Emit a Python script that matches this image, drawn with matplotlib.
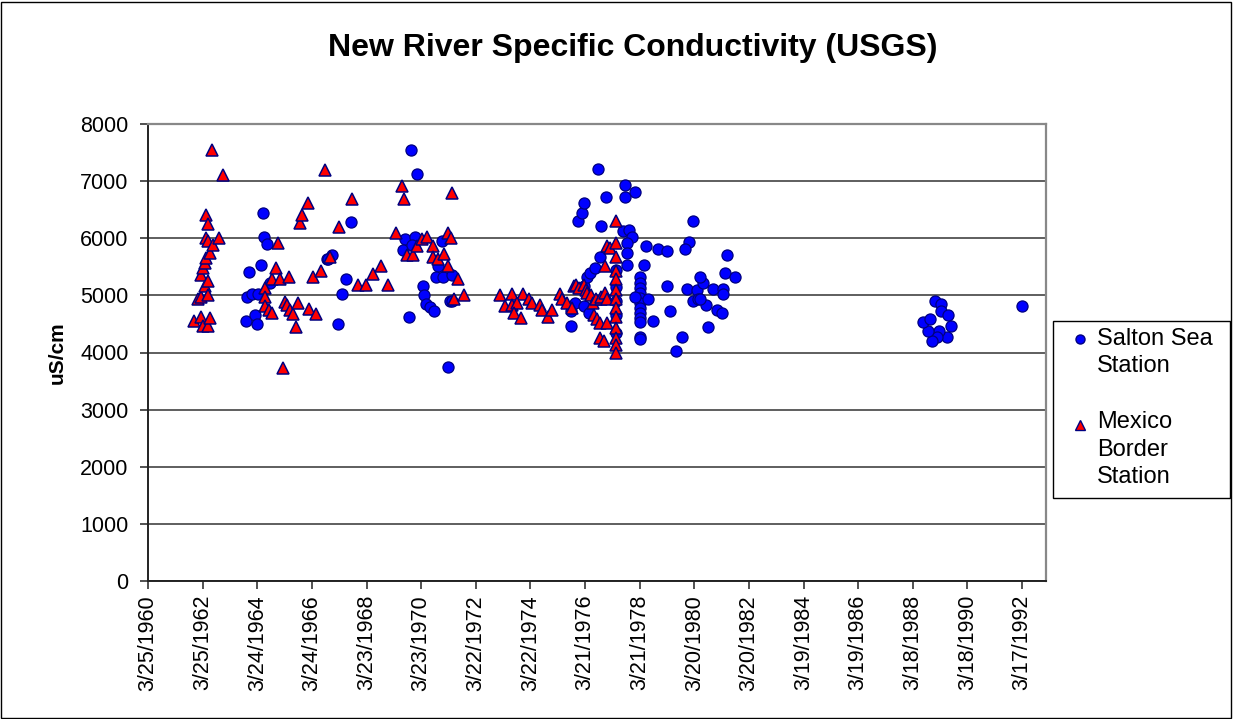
"""New River specific conductivity scatter (USGS), Excel-style chart."""
import datetime as dt

import matplotlib

matplotlib.use("Agg")
import matplotlib.dates as mdates  # noqa: E402
import matplotlib.pyplot as plt  # noqa: E402
from matplotlib.lines import Line2D  # noqa: E402
from matplotlib.patches import Rectangle  # noqa: E402

plt.rcParams["font.family"] = ["Liberation Sans", "DejaVu Sans"]

# decimal years / uS/cm
salton_yr = [
    1963.80, 1963.86, 1963.94, 1964.02, 1964.15, 1964.21, 1964.27, 1964.37,
    1964.43, 1964.49, 1964.58, 1964.69, 1966.77, 1966.95, 1966.83, 1967.17,
    1967.32, 1967.46, 1967.66, 1969.85, 1970.06, 1969.64, 1970.00, 1969.55,
    1969.88, 1970.97, 1970.85, 1970.76, 1971.01, 1971.37, 1970.29, 1970.34,
    1970.40, 1970.55, 1970.71, 1969.78, 1971.28, 1971.37, 1971.19,
    1975.71, 1975.71, 1975.86, 1976.17, 1976.35, 1976.17, 1976.29, 1976.41,
    1976.57, 1976.78, 1975.95, 1976.10, 1976.17, 1976.69, 1976.97, 1976.82,
    1977.68, 1978.05, 1977.68, 1977.62, 1977.84, 1977.93, 1977.77, 1977.77,
    1977.77, 1977.37, 1977.37, 1977.37, 1977.37, 1977.37,
    1978.23, 1978.23, 1978.23, 1978.23, 1978.23, 1978.23, 1978.23, 1978.23,
    1978.23, 1978.23, 1978.23, 1978.23, 1978.05,
    1978.45, 1978.88, 1979.21, 1978.38, 1978.54, 1978.72, 1979.21, 1979.33,
    1980.16, 1980.03, 1979.88, 1979.95, 1980.31, 1980.53, 1980.43, 1980.16,
    1980.37, 1980.65, 1979.75, 1979.53, 1980.71, 1981.43, 1981.35, 1981.71,
    1980.91, 1981.28, 1981.28, 1981.06, 1981.22, 1980.43,
    1989.03, 1989.23, 1989.23, 1989.51, 1989.60, 1989.45, 1989.18, 1989.09,
    1988.91, 1988.76, 1988.60, 1988.85, 1992.20,
]
salton_val = [
    4560, 4970, 5410, 5030, 4660, 4500, 5030, 5530,
    6440, 6030, 5900, 5220, 5630, 5710, 5640, 4500,
    5030, 5280, 6280, 7550, 7120, 5980, 6030, 5790,
    5890, 5950, 5510, 5320, 5320, 5360, 5160, 5000,
    4850, 4790, 4720, 4620, 4900, 4910, 3750,
    4720, 4470, 4870, 4810, 4690, 5160, 5330, 5390,
    5480, 5680, 6310, 6440, 6620, 7210, 6720, 6210,
    6940, 6810, 6720, 6120, 6140, 6020, 5910, 5740,
    5540, 5450, 5150, 4900, 4650, 4350,
    5330, 5220, 5130, 5040, 4960, 4870, 4780, 4690,
    4610, 4530, 4280, 4230, 4980,
    5870, 5810, 5780, 5530, 4940, 4550, 5160, 4720,
    6310, 5940, 5810, 5120, 5090, 5220, 5320, 4900,
    4930, 4840, 4280, 4030, 4440, 5710, 5400, 5320,
    5120, 5120, 5030, 4750, 4690, 4940,
    4900, 4850, 4720, 4660, 4470, 4280, 4370, 4280,
    4200, 4380, 4530, 4590, 4820,
]

mexico_yr = [
    1961.91, 1962.07, 1962.18, 1962.18, 1962.18, 1962.25, 1962.25, 1962.31,
    1962.31, 1962.35, 1962.35, 1962.35, 1962.41, 1962.41, 1962.43, 1962.43,
    1962.43, 1962.50, 1962.50, 1962.56, 1962.62, 1962.83, 1962.97,
    1964.50, 1964.50, 1964.52, 1964.67, 1964.78, 1964.78, 1964.91, 1965.00,
    1965.06, 1965.16, 1965.24, 1965.30, 1965.39, 1965.42, 1965.54, 1965.65,
    1965.73, 1965.79, 1965.85, 1966.07, 1966.13, 1966.28, 1966.36, 1966.56,
    1966.71, 1966.89, 1967.22, 1967.70, 1967.92, 1968.20, 1968.47, 1968.75,
    1969.02, 1969.30, 1969.53, 1969.61, 1969.70, 1969.94, 1970.06, 1970.25,
    1970.43, 1970.67, 1970.67, 1970.85, 1971.07, 1971.22, 1971.32, 1971.37,
    1971.22, 1971.56, 1971.44, 1971.80,
    1973.10, 1973.54, 1973.96, 1973.29, 1973.54, 1973.74, 1973.62, 1973.86,
    1974.18, 1974.27, 1974.57, 1974.63, 1974.88, 1975.00, 1975.32, 1975.38,
    1975.56, 1975.74, 1975.80, 1975.89, 1976.01, 1976.19, 1976.26, 1976.30,
    1976.44, 1976.50, 1976.62, 1976.80, 1976.82, 1976.95, 1977.02, 1976.53,
    1976.66, 1976.78, 1977.02, 1976.78, 1976.90, 1976.95, 1977.02, 1977.14,
    1977.35, 1977.35, 1977.35, 1977.35, 1977.35, 1977.35, 1977.35, 1977.35,
    1977.35, 1977.35, 1977.35, 1977.35, 1977.35,
]
mexico_val = [
    4550, 4930, 4980, 4630, 5360, 4470, 5480, 5160,
    5570, 5660, 6000, 6410, 5250, 6250, 5000, 5950,
    4470, 4610, 5740, 7540, 5880, 6010, 7100,
    5130, 4980, 4810, 4750, 4690, 5280, 5480, 5910,
    5290, 3730, 4890, 4840, 5320, 4740, 4680, 4440,
    4860, 6270, 6410, 6610, 4760, 5320, 4680, 5420,
    7190, 5680, 6190, 6690, 5190, 5190, 5380, 5510,
    5190, 6090, 6910, 6690, 5710, 5710, 5860, 5980,
    6030, 5870, 5680, 5630, 5730, 6090, 6010, 6790,
    5510, 5290, 4940, 5010,
    5010, 5030, 5030, 4810, 4840, 4870, 4690, 4610,
    4930, 4870, 4840, 4750, 4630, 4740, 5030, 4930,
    4870, 4780, 5160, 5190, 5130, 5190, 5100, 5040,
    5010, 4870, 4930, 4930, 4980, 5040, 4930, 4660,
    4580, 4520, 4520, 4260, 4200, 5510, 5860, 5830,
    6300, 5920, 5680, 5420, 5280, 5100, 4930, 4780,
    4630, 4430, 4260, 4140, 3990,
]

y_ticks = [0, 1000, 2000, 3000, 4000, 5000, 6000, 7000, 8000]
x_start = dt.datetime(1960, 3, 25)
x_end = dt.datetime(1993, 1, 31)
x_step_days = 730
n_xticks = 17


def to_dates(years):
    base = dt.datetime(1960, 1, 1)
    return [base + dt.timedelta(days=(y - 1960) * 365.25) for y in years]


W, H = 1233, 719
fig = plt.figure(figsize=(W / 100, H / 100), dpi=100)
ax = fig.add_axes([148 / W, 1 - 581 / H, (1046 - 148) / W, (581 - 124) / H])

ax.plot(to_dates(salton_yr), salton_val, linestyle="none", marker="o",
        markersize=8.0, markerfacecolor="#0000ff", markeredgecolor="#000080",
        markeredgewidth=0.9, zorder=3)
ax.plot(to_dates(mexico_yr), mexico_val, linestyle="none", marker="^",
        markersize=9.0, markerfacecolor="#ff0000", markeredgecolor="#000080",
        markeredgewidth=1.1, zorder=4)

ticks = [x_start + dt.timedelta(days=x_step_days * k) for k in range(n_xticks)]
ax.set_xticks(mdates.date2num(ticks))
ax.set_xticklabels([f"{d.month}/{d.day}/{d.year}" for d in ticks],
                   rotation=90, fontsize=15.5)
ax.set_xlim(x_start, x_end)
ax.set_ylim(0, 8000)
ax.set_yticks(y_ticks)
ax.set_yticklabels([str(v) for v in y_ticks], fontsize=15.5)
ax.tick_params(axis="both", direction="out", length=6, width=1.2, color="#333333")
ax.tick_params(axis="x", pad=4)
ax.tick_params(axis="y", pad=8)
ax.grid(True, axis="y", color="#333333", linewidth=1.1)
ax.set_axisbelow(True)
for side in ("top", "right"):
    ax.spines[side].set_color("#888888")
    ax.spines[side].set_linewidth(1.6)
for side in ("left", "bottom"):
    ax.spines[side].set_color("#222222")
    ax.spines[side].set_linewidth(1.4)

ax.set_ylabel("uS/cm", fontsize=15, fontweight="bold", labelpad=10)
fig.text(633 / W, 1 - 48 / H, "New River Specific Conductivity (USGS)",
         ha="center", va="center", fontsize=23, fontweight="bold")

# legend box drawn by hand to keep the wrapped Excel layout
fig.patches.append(Rectangle((1053 / W, 1 - 498 / H), (1230 - 1053) / W,
                             (498 - 321) / H, transform=fig.transFigure,
                             fill=False, edgecolor="black", linewidth=1.0))
fig.lines.append(Line2D([1080 / W], [1 - 339 / H], transform=fig.transFigure,
                        marker="o", markersize=6.5, markerfacecolor="#0000ff",
                        markeredgecolor="#000080", linestyle="none"))
fig.lines.append(Line2D([1080 / W], [1 - 425 / H], transform=fig.transFigure,
                        marker="^", markersize=7.5, markerfacecolor="#ff0000",
                        markeredgecolor="#000080", linestyle="none"))
for txt, ypix in [("Salton Sea", 339), ("Station", 366), ("Mexico", 422),
                  ("Border", 450), ("Station", 477)]:
    fig.text(1097 / W, 1 - ypix / H, txt, ha="left", va="center", fontsize=17)

# chart area border
fig.patches.append(Rectangle((1 / W, 1 / H), (W - 3) / W, (H - 3) / H,
                             transform=fig.transFigure, fill=False,
                             edgecolor="black", linewidth=1.0))

fig.savefig("out.png", dpi=100)
